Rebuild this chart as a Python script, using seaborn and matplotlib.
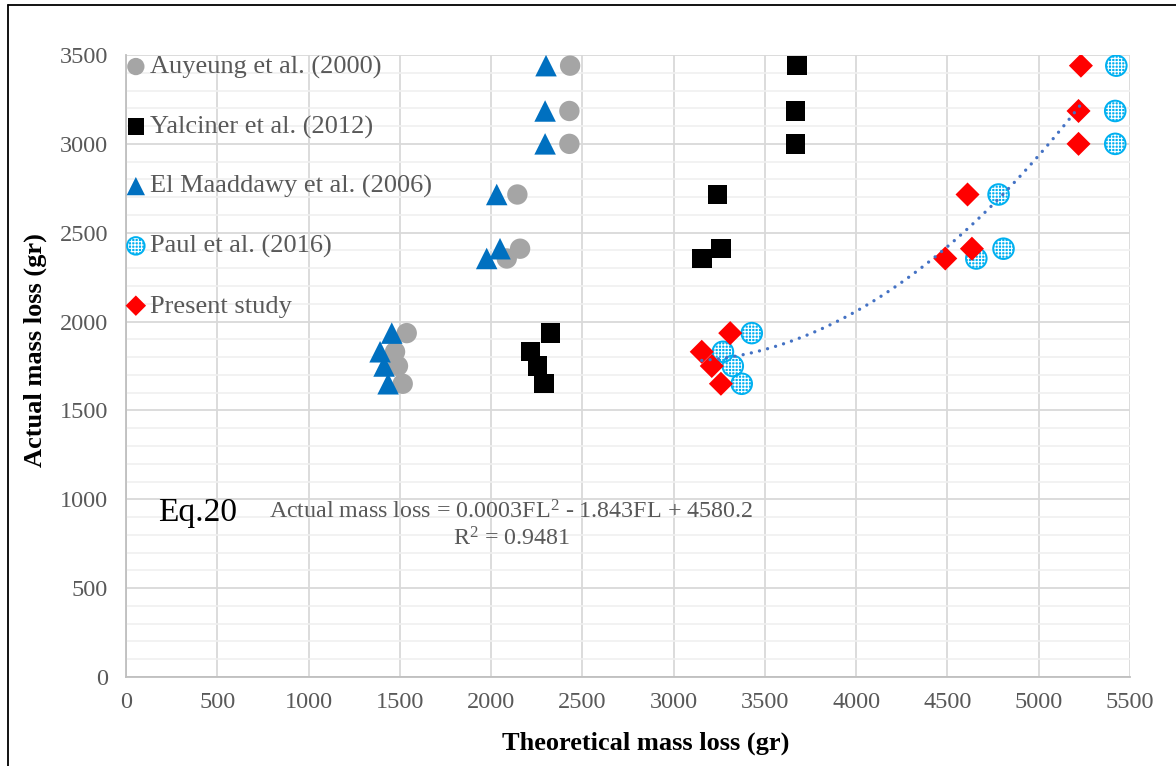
import numpy as np
import pandas as pd
import matplotlib
matplotlib.use("Agg")
import matplotlib.pyplot as plt
from matplotlib.lines import Line2D
from matplotlib.legend_handler import HandlerTuple
from matplotlib.ticker import MultipleLocator
import seaborn as sns

# Actual mass loss (gr) shared by every data set, one value per specimen
actual_loss = [3440, 3185, 3000, 2715, 2410, 2355, 1935, 1830, 1750, 1650]

# Theoretical mass loss (gr) predicted by each model for the same specimens
auyeung_2000 = [2433, 2429, 2429, 2144, 2159, 2086, 1538, 1474, 1490, 1516]
yalciner_2012 = [3675, 3667, 3667, 3242, 3260, 3156, 2327, 2217, 2253, 2290]
el_maaddawy_2006 = [2301, 2296, 2296, 2031, 2049, 1976, 1456, 1392, 1414, 1436]
paul_2016 = [5425, 5419, 5419, 4780, 4807, 4658, 3428, 3270, 3324, 3373]
present_study = [5231, 5218, 5218, 4610, 4634, 4488, 3310, 3154, 3209, 3259]

series_names = ["Auyeung et al. (2000)", "Yalciner et al. (2012)",
                "El Maaddawy et al. (2006)", "Paul et al. (2016)", "Present study"]

x_ticks = list(range(0, 5501, 500))
y_ticks = list(range(0, 3501, 500))

eq_label = "Eq.20"
fit_label = "Actual mass loss = 0.0003FL$^{2}$ - 1.843FL + 4580.2"
r2_label = "R$^{2}$ = 0.9481"

sns.set_theme(style="white")
plt.rcParams["font.family"] = ["Liberation Serif", "DejaVu Serif"]
plt.rcParams["mathtext.fontset"] = "custom"
plt.rcParams["mathtext.rm"] = "Liberation Serif"
plt.rcParams["mathtext.it"] = "Liberation Serif:italic"
plt.rcParams["hatch.linewidth"] = 0.8

TXT = "#595959"

fig = plt.figure(figsize=(11.76, 7.66), dpi=100)
ax = fig.add_axes([0.1071, 0.1162, 0.8538, 0.8120])

df = pd.DataFrame({
    "actual": actual_loss * 5,
    "theoretical": auyeung_2000 + yalciner_2012 + el_maaddawy_2006 + paul_2016 + present_study,
    "source": sum([[n] * len(actual_loss) for n in series_names], []),
})

def sub(name):
    return df[df["source"] == name]

sns.scatterplot(data=sub(series_names[0]), x="theoretical", y="actual", ax=ax,
                marker="o", s=215, color="#A5A5A5", edgecolor="none", zorder=3)
sns.scatterplot(data=sub(series_names[1]), x="theoretical", y="actual", ax=ax,
                marker="s", s=195, color="black", edgecolor="none", zorder=3)
sns.scatterplot(data=sub(series_names[2]), x="theoretical", y="actual", ax=ax,
                marker="^", s=240, color="#0070C0", edgecolor="none", zorder=3)
# patterned circles: blue fill, white grid pattern, blue rim
sns.scatterplot(data=sub(series_names[3]), x="theoretical", y="actual", ax=ax,
                marker="o", s=220, color="#00B0F0", edgecolor="none", zorder=3)
sns.scatterplot(data=sub(series_names[3]), x="theoretical", y="actual", ax=ax,
                marker="o", s=220, facecolor="none", edgecolor="white",
                linewidth=0, hatch="+++++", zorder=3)
sns.scatterplot(data=sub(series_names[3]), x="theoretical", y="actual", ax=ax,
                marker="o", s=220, facecolor="none", edgecolor="#00B0F0",
                linewidth=1.4, zorder=3)
sns.scatterplot(data=sub(series_names[4]), x="theoretical", y="actual", ax=ax,
                marker="D", s=150, color="#FF0000", edgecolor="none", zorder=4)

colls = ax.collections
h_auy, h_yal, h_elm, h_p1, h_p2, h_p3, h_pre = colls[:7]

# second-order trendline fitted to the present study
sns.regplot(data=sub(series_names[4]), x="theoretical", y="actual", ax=ax,
            order=2, ci=None, truncate=True, scatter=False,
            line_kws=dict(color="#4472C4", linewidth=2.4,
                          linestyle=(0, (0.01, 2.5)), dash_capstyle="round",
                          zorder=5))

ax.set_xlim(0, 5500)
ax.set_ylim(0, 3500)
ax.set_xticks(x_ticks)
ax.set_yticks(y_ticks)
ax.yaxis.set_minor_locator(MultipleLocator(100))
ax.grid(which="major", color="#D9D9D9", linewidth=1.3, zorder=0)
ax.grid(which="minor", axis="y", color="#F0F0F0", linewidth=1.2, zorder=0)
ax.set_axisbelow(True)
for side in ["top", "right"]:
    ax.spines[side].set_visible(False)
for side in ["left", "bottom"]:
    ax.spines[side].set_color("#BFBFBF")
    ax.spines[side].set_linewidth(1.3)
ax.tick_params(which="major", direction="out", length=5, width=1.3,
               color="#BFBFBF", labelcolor=TXT, labelsize=17.5)
ax.tick_params(axis="y", which="major", pad=8)
ax.tick_params(axis="x", which="major", pad=6)
ax.tick_params(which="minor", length=0)

ax.set_xlabel("Theoretical mass loss (gr)", fontsize=19, fontweight="bold",
              color="black")
ax.set_ylabel("Actual mass loss (gr)", fontsize=19, fontweight="bold",
              color="black")
ax.xaxis.set_label_coords(0.518, -0.088)
ax.yaxis.set_label_coords(-0.079, 0.525)

ax.text(175, 925, eq_label, fontsize=24, color="black", ha="left", va="center")
ax.text(2110, 930, fit_label, fontsize=17.3, color=TXT, ha="center", va="center")
ax.text(2110, 775, r2_label, fontsize=17.3, color=TXT, ha="center", va="center")

leg = ax.legend([h_auy, h_yal, h_elm, (h_p1, h_p2, h_p3), h_pre], series_names,
                handler_map={tuple: HandlerTuple(ndivide=1, pad=0)},
                loc="upper left", bbox_to_anchor=(0.0, 1.0), frameon=False,
                fontsize=19, labelcolor=TXT, markerscale=0.85,
                handlelength=0.75, handletextpad=0.15, borderpad=0,
                borderaxespad=0.0, labelspacing=1.36)

# outer frame lines along left and top of the figure
fig.add_artist(Line2D([0.0064, 0.0064], [0.0, 0.9935], transform=fig.transFigure,
                      color="black", linewidth=1.3))
fig.add_artist(Line2D([0.0064, 1.0], [0.9935, 0.9935], transform=fig.transFigure,
                      color="black", linewidth=1.3))

fig.savefig("out.png", dpi=100, facecolor="white")
